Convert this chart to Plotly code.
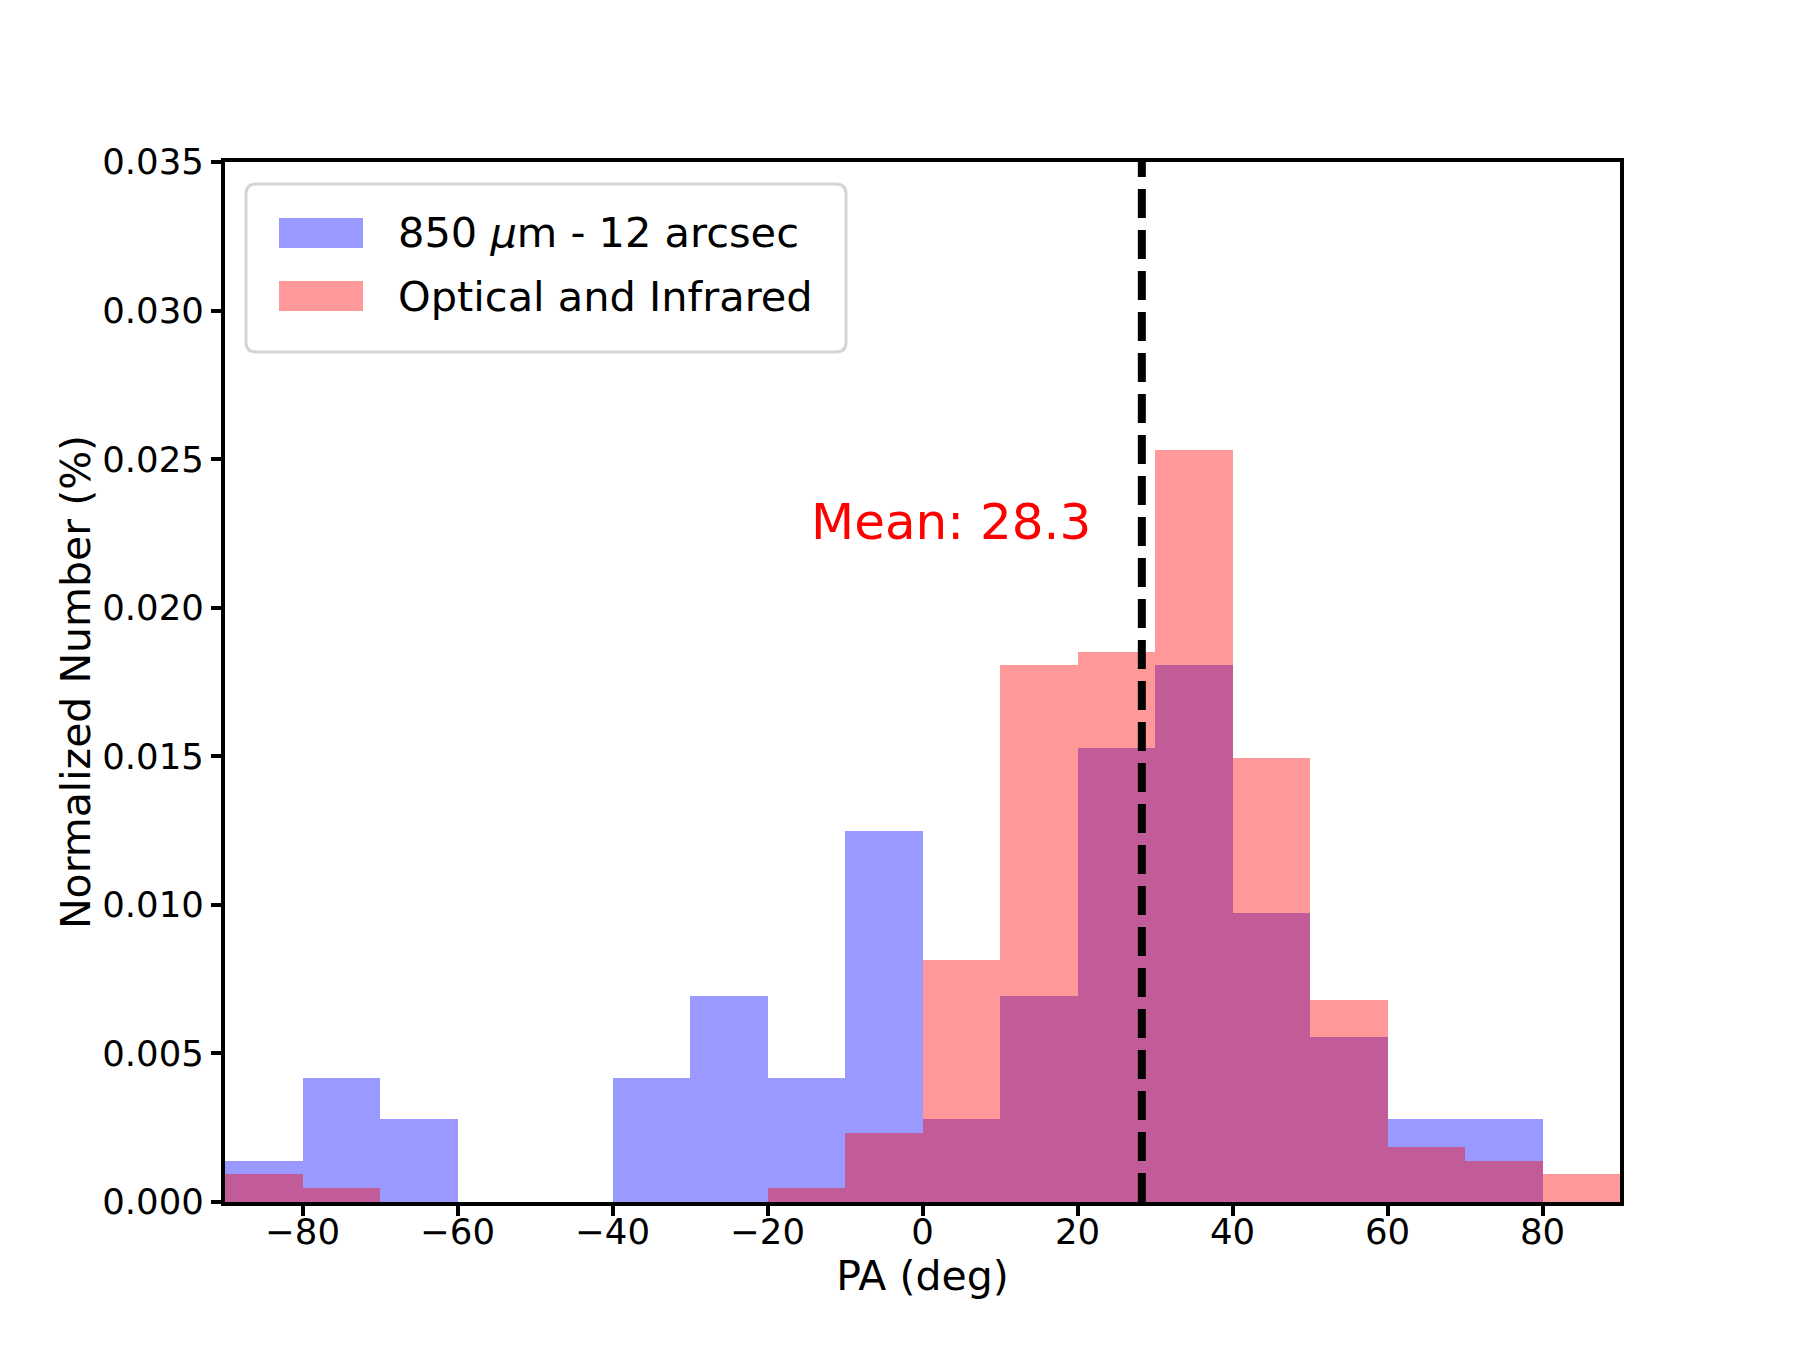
import plotly.graph_objects as go

# ---- data ----
bin_edges = [-90, -80, -70, -60, -50, -40, -30, -20, -10, 0, 10, 20, 30, 40, 50, 60, 70, 80, 90]
submm_850 = [0.00139, 0.00417, 0.00278, 0.0, 0.0, 0.00417, 0.00694, 0.00417, 0.0125,
             0.00278, 0.00694, 0.01528, 0.01806, 0.00972, 0.00556, 0.00278, 0.00278, 0.0]
optical_ir = [0.00093, 0.00046, 0.0, 0.0, 0.0, 0.0, 0.0, 0.00046, 0.00231,
              0.00815, 0.01806, 0.01852, 0.02532, 0.01495, 0.00681, 0.00185, 0.00139, 0.00093]
mean_pa = 28.3
series_names = ["850 <i>μ</i>m - 12 arcsec", "Optical and Infrared"]
x_tickvals = [-80, -60, -40, -20, 0, 20, 40, 60, 80]
x_ticktext = ["−80", "−60", "−40", "−20", "0", "20", "40", "60", "80"]
y_tickvals = [0.0, 0.005, 0.010, 0.015, 0.020, 0.025, 0.030, 0.035]

centers = [(a + b) / 2 for a, b in zip(bin_edges[:-1], bin_edges[1:])]
widths = [b - a for a, b in zip(bin_edges[:-1], bin_edges[1:])]

FONT = "DejaVu Sans"
BLUE = "rgba(0,0,255,0.4)"
RED = "rgba(255,0,0,0.4)"
TICK_SIZE = 35.5
TITLE_SIZE = 41

fig = go.Figure()
fig.add_trace(go.Bar(x=centers, y=submm_850, width=widths, marker=dict(color=BLUE, line=dict(width=0)),
                     name=series_names[0], showlegend=False))
fig.add_trace(go.Bar(x=centers, y=optical_ir, width=widths, marker=dict(color=RED, line=dict(width=0)),
                     name=series_names[1], showlegend=False))

# mean line
fig.add_shape(type="line", xref="x", yref="paper", x0=mean_pa, x1=mean_pa, y0=0, y1=1,
              line=dict(color="black", width=8, dash="29px,12px"), layer="above")

fig.add_annotation(x=-14.6, y=0.0229, xref="x", yref="y", text="Mean: 28.3", showarrow=False,
                   xanchor="left", yanchor="middle", font=dict(family=FONT, size=50, color="red"))

# ---- manual legend (paper coords derived from pixel layout) ----
L, R, T, B = 225, 1620, 162, 1202
W, H = R - L, B - T
def px(x):
    return (x - L) / W
def py(y):
    return (B - y) / H

lx0, lx1, ly0, ly1, r = 246, 846, 184, 352, 10
path = (f"M {px(lx0 + r)},{py(ly0)} L {px(lx1 - r)},{py(ly0)} Q {px(lx1)},{py(ly0)} {px(lx1)},{py(ly0 + r)} "
        f"L {px(lx1)},{py(ly1 - r)} Q {px(lx1)},{py(ly1)} {px(lx1 - r)},{py(ly1)} "
        f"L {px(lx0 + r)},{py(ly1)} Q {px(lx0)},{py(ly1)} {px(lx0)},{py(ly1 - r)} "
        f"L {px(lx0)},{py(ly0 + r)} Q {px(lx0)},{py(ly0)} {px(lx0 + r)},{py(ly0)} Z")
fig.add_shape(type="path", path=path, xref="paper", yref="paper",
              fillcolor="rgba(255,255,255,0.8)", line=dict(color="#d5d5d5", width=3), layer="above")
for i, (name, col) in enumerate(zip(series_names, [BLUE, RED])):
    cy = 233 + i * 63
    fig.add_shape(type="rect", xref="paper", yref="paper", x0=px(279), x1=px(363),
                  y0=py(cy - 15), y1=py(cy + 15), fillcolor=col, line=dict(width=0), layer="above")
    fig.add_annotation(x=px(396), y=py(cy), xref="paper", yref="paper", text=name, showarrow=False,
                       xanchor="left", yanchor="middle", font=dict(family=FONT, size=41.5, color="black"))

fig.update_layout(
    width=1800, height=1350,
    margin=dict(l=L, r=1800 - R, t=T, b=1350 - B),
    barmode="overlay", bargap=0,
    plot_bgcolor="white", paper_bgcolor="white",
    font=dict(family=FONT, size=TICK_SIZE, color="black"),
    showlegend=False,
)
fig.update_xaxes(range=[-90, 90], tickvals=x_tickvals, ticktext=x_ticktext, ticks="outside", ticklen=10,
                 tickwidth=3.5, tickcolor="black", showline=True, linecolor="black", linewidth=4, mirror=True,
                 showgrid=False, zeroline=False, ticklabelstandoff=-15,
                 title=dict(text="PA (deg)", standoff=5, font=dict(family=FONT, size=TITLE_SIZE)),
                 tickfont=dict(family=FONT, size=TICK_SIZE))
fig.update_yaxes(range=[0, 0.035], tickvals=y_tickvals, tickformat=".3f", ticks="outside", ticklen=10,
                 tickwidth=3.5, tickcolor="black", showline=True, linecolor="black", linewidth=4, mirror=True,
                 showgrid=False, zeroline=False, ticklabelstandoff=0,
                 title=dict(text="Normalized Number (%)", standoff=0, font=dict(family=FONT, size=TITLE_SIZE)),
                 tickfont=dict(family=FONT, size=TICK_SIZE))

fig.write_html("out.html")
